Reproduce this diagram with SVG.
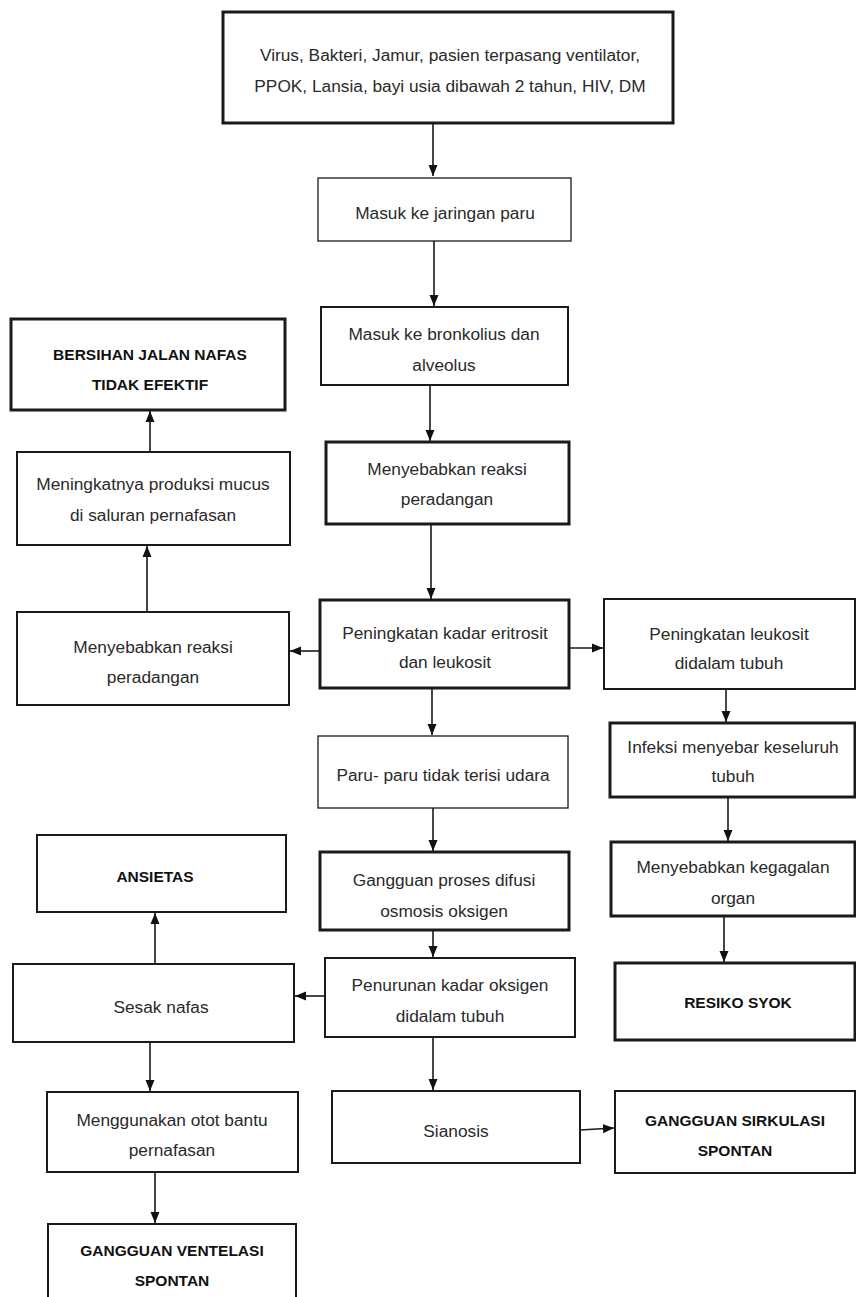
<svg xmlns="http://www.w3.org/2000/svg" width="856" height="1297" viewBox="0 0 856 1297">
<style>
.b{fill:#fff;stroke:#1a1a1a;stroke-width:2}
.k{stroke-width:3}
.t{stroke-width:1.3}
text{font-family:"Liberation Sans",Arial,sans-serif;font-size:17.3px;fill:#2a2a2a;text-anchor:middle}
.bd{font-weight:bold;fill:#111;font-size:15.5px}
.c{stroke:#1a1a1a;stroke-width:1.6;fill:none;marker-end:url(#ah)}
</style>
<defs>
<marker id="ah" markerUnits="userSpaceOnUse" markerWidth="12" markerHeight="12" viewBox="0 0 12 12" refX="11" refY="6" orient="auto">
<path d="M0,1.5 L11,6 L0,10.5 Z" fill="#111"/>
</marker>
</defs>
<rect width="856" height="1297" fill="#fff"/>
<g id="connectors">
<line class="c" x1="433" y1="124" x2="433" y2="176"/>
<line class="c" x1="434" y1="241" x2="434" y2="306"/>
<line class="c" x1="430" y1="385" x2="430" y2="441"/>
<line class="c" x1="431" y1="525" x2="431" y2="599"/>
<line class="c" x1="320" y1="651" x2="290" y2="651"/>
<line class="c" x1="147" y1="612" x2="147" y2="546"/>
<line class="c" x1="150" y1="452" x2="150" y2="411"/>
<line class="c" x1="569" y1="648" x2="603" y2="648"/>
<line class="c" x1="726" y1="690" x2="726" y2="722"/>
<line class="c" x1="728" y1="798" x2="728" y2="841"/>
<line class="c" x1="724" y1="917" x2="724" y2="962"/>
<line class="c" x1="432" y1="689" x2="432" y2="735"/>
<line class="c" x1="433" y1="808" x2="433" y2="851"/>
<line class="c" x1="433" y1="931" x2="433" y2="957"/>
<line class="c" x1="325" y1="996" x2="295" y2="996"/>
<line class="c" x1="155" y1="964" x2="155" y2="913"/>
<line class="c" x1="150" y1="1042" x2="150" y2="1091"/>
<line class="c" x1="155" y1="1172" x2="155" y2="1223"/>
<line class="c" x1="433" y1="1038" x2="433" y2="1090"/>
<line class="c" x1="580" y1="1130" x2="614" y2="1128"/>
</g>
<g id="n1"><rect class="b k" x="223" y="12" width="450" height="111"/>
<text x="450" y="61">Virus, Bakteri, Jamur, pasien terpasang ventilator,</text>
<text x="450" y="92">PPOK, Lansia, bayi usia dibawah 2 tahun, HIV, DM</text></g>
<g id="n2"><rect class="b t" x="318" y="178" width="253" height="63"/>
<text x="445" y="219">Masuk ke jaringan paru</text></g>
<g id="n3"><rect class="b" x="321" y="307" width="247" height="78"/>
<text x="444" y="340">Masuk ke bronkolius dan</text>
<text x="444" y="371">alveolus</text></g>
<g id="n4"><rect class="b k" x="326" y="442" width="243" height="82"/>
<text x="447" y="475">Menyebabkan reaksi</text>
<text x="447" y="505">peradangan</text></g>
<g id="n5"><rect class="b k" x="320" y="600" width="249" height="88"/>
<text x="445" y="639">Peningkatan kadar eritrosit</text>
<text x="445" y="668">dan leukosit</text></g>
<g id="n6"><rect class="b" x="17" y="612" width="272" height="93"/>
<text x="153" y="653">Menyebabkan reaksi</text>
<text x="153" y="683">peradangan</text></g>
<g id="n7"><rect class="b" x="17" y="452" width="273" height="93"/>
<text x="153" y="490">Meningkatnya produksi mucus</text>
<text x="153" y="521">di saluran pernafasan</text></g>
<g id="n8"><rect class="b k" x="11" y="319" width="274" height="91"/>
<text class="bd" x="150" y="360">BERSIHAN JALAN NAFAS</text>
<text class="bd" x="150" y="390">TIDAK EFEKTIF</text></g>
<g id="n9"><rect class="b" x="604" y="599" width="251" height="90"/>
<text x="729" y="640">Peningkatan leukosit</text>
<text x="729" y="669">didalam tubuh</text></g>
<g id="n10"><rect class="b k" x="610" y="723" width="245" height="74"/>
<text x="733" y="753">Infeksi menyebar keseluruh</text>
<text x="733" y="782">tubuh</text></g>
<g id="n11"><rect class="b k" x="611" y="842" width="244" height="74"/>
<text x="733" y="873">Menyebabkan kegagalan</text>
<text x="733" y="904">organ</text></g>
<g id="n12"><rect class="b k" x="615" y="963" width="240" height="77"/>
<text class="bd" x="738" y="1008">RESIKO SYOK</text></g>
<g id="n13"><rect class="b t" x="318" y="736" width="250" height="72"/>
<text x="443" y="781">Paru- paru tidak terisi udara</text></g>
<g id="n14"><rect class="b k" x="320" y="852" width="249" height="78"/>
<text x="444" y="886">Gangguan proses difusi</text>
<text x="444" y="917">osmosis oksigen</text></g>
<g id="n15"><rect class="b" x="325" y="958" width="250" height="79"/>
<text x="450" y="991">Penurunan kadar oksigen</text>
<text x="450" y="1022">didalam tubuh</text></g>
<g id="n16"><rect class="b" x="13" y="964" width="281" height="78"/>
<text x="161" y="1013">Sesak nafas</text></g>
<g id="n17"><rect class="b" x="37" y="835" width="249" height="77"/>
<text class="bd" x="155" y="882">ANSIETAS</text></g>
<g id="n18"><rect class="b" x="47" y="1092" width="251" height="80"/>
<text x="172" y="1126">Menggunakan otot bantu</text>
<text x="172" y="1156">pernafasan</text></g>
<g id="n19"><rect class="b" x="48" y="1224" width="248" height="80"/>
<text class="bd" x="172" y="1256">GANGGUAN VENTELASI</text>
<text class="bd" x="172" y="1286">SPONTAN</text></g>
<g id="n20"><rect class="b" x="332" y="1091" width="248" height="72"/>
<text x="456" y="1137">Sianosis</text></g>
<g id="n21"><rect class="b" x="615" y="1091" width="240" height="82"/>
<text class="bd" x="735" y="1126">GANGGUAN SIRKULASI</text>
<text class="bd" x="735" y="1156">SPONTAN</text></g>
</svg>
